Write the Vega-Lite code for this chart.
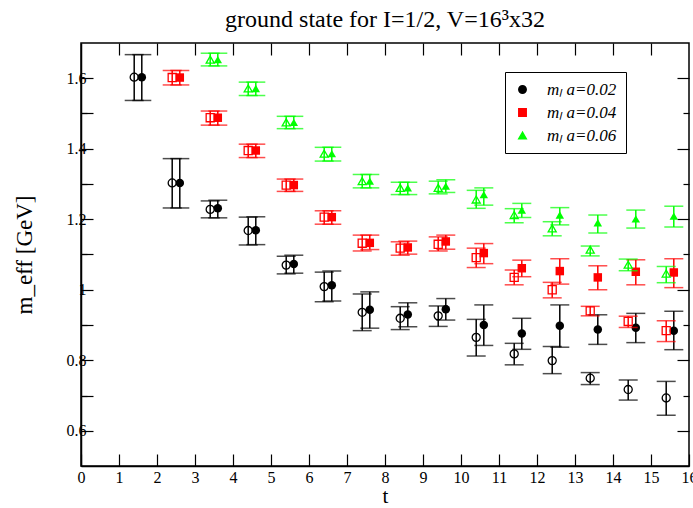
{
  "$schema": "https://vega.github.io/schema/vega-lite/v6.json",
  "width": 608,
  "height": 423,
  "autosize": "none",
  "padding": {"left": 81, "top": 43, "right": 4, "bottom": 42},
  "background": "white",
  "title": {"text": "ground state for  I=1/2, V=16³x32", "font": "Liberation Serif", "fontSize": 24, "fontWeight": "normal", "color": "black", "offset": 10},
  "config": {
    "view": {"stroke": "black", "strokeWidth": 1.5},
    "axis": {"domainColor": "black", "domainWidth": 1.5, "tickColor": "black", "tickWidth": 1.2, "labelFont": "Liberation Serif", "labelFontSize": 16, "labelColor": "black", "titleFont": "Liberation Serif", "titleColor": "black", "titleFontWeight": "normal", "grid": false, "labelOverlap": false}
  },
  "data": {"values": [
    {"series": "0.02", "kind": "open", "t": 1.4, "meff": 1.603, "lo": 1.537, "hi": 1.667},
    {"series": "0.02", "kind": "filled", "t": 1.6, "meff": 1.603, "lo": 1.537, "hi": 1.667},
    {"series": "0.02", "kind": "open", "t": 2.4, "meff": 1.303, "lo": 1.232, "hi": 1.372},
    {"series": "0.02", "kind": "filled", "t": 2.6, "meff": 1.303, "lo": 1.232, "hi": 1.372},
    {"series": "0.02", "kind": "open", "t": 3.4, "meff": 1.228, "lo": 1.204, "hi": 1.252},
    {"series": "0.02", "kind": "filled", "t": 3.6, "meff": 1.231, "lo": 1.204, "hi": 1.254},
    {"series": "0.02", "kind": "open", "t": 4.4, "meff": 1.168, "lo": 1.127, "hi": 1.206},
    {"series": "0.02", "kind": "filled", "t": 4.6, "meff": 1.169, "lo": 1.128, "hi": 1.207},
    {"series": "0.02", "kind": "open", "t": 5.4, "meff": 1.07, "lo": 1.045, "hi": 1.095},
    {"series": "0.02", "kind": "filled", "t": 5.6, "meff": 1.073, "lo": 1.047, "hi": 1.098},
    {"series": "0.02", "kind": "open", "t": 6.4, "meff": 1.009, "lo": 0.966, "hi": 1.05},
    {"series": "0.02", "kind": "filled", "t": 6.6, "meff": 1.013, "lo": 0.968, "hi": 1.053},
    {"series": "0.02", "kind": "open", "t": 7.4, "meff": 0.936, "lo": 0.884, "hi": 0.988},
    {"series": "0.02", "kind": "filled", "t": 7.6, "meff": 0.943, "lo": 0.891, "hi": 0.994},
    {"series": "0.02", "kind": "open", "t": 8.4, "meff": 0.919, "lo": 0.887, "hi": 0.952},
    {"series": "0.02", "kind": "filled", "t": 8.6, "meff": 0.93, "lo": 0.895, "hi": 0.963},
    {"series": "0.02", "kind": "open", "t": 9.4, "meff": 0.926, "lo": 0.896, "hi": 0.954},
    {"series": "0.02", "kind": "filled", "t": 9.6, "meff": 0.945, "lo": 0.914, "hi": 0.975},
    {"series": "0.02", "kind": "open", "t": 10.4, "meff": 0.865, "lo": 0.812, "hi": 0.916},
    {"series": "0.02", "kind": "filled", "t": 10.6, "meff": 0.9, "lo": 0.842, "hi": 0.957},
    {"series": "0.02", "kind": "open", "t": 11.4, "meff": 0.818, "lo": 0.787, "hi": 0.848},
    {"series": "0.02", "kind": "filled", "t": 11.6, "meff": 0.876, "lo": 0.831, "hi": 0.919},
    {"series": "0.02", "kind": "open", "t": 12.4, "meff": 0.799, "lo": 0.762, "hi": 0.839},
    {"series": "0.02", "kind": "filled", "t": 12.6, "meff": 0.898, "lo": 0.837, "hi": 0.957},
    {"series": "0.02", "kind": "open", "t": 13.4, "meff": 0.749, "lo": 0.731, "hi": 0.765},
    {"series": "0.02", "kind": "filled", "t": 13.6, "meff": 0.887, "lo": 0.845, "hi": 0.929},
    {"series": "0.02", "kind": "open", "t": 14.4, "meff": 0.717, "lo": 0.687, "hi": 0.744},
    {"series": "0.02", "kind": "filled", "t": 14.6, "meff": 0.892, "lo": 0.85, "hi": 0.933},
    {"series": "0.02", "kind": "open", "t": 15.4, "meff": 0.693, "lo": 0.644, "hi": 0.74},
    {"series": "0.02", "kind": "filled", "t": 15.6, "meff": 0.884, "lo": 0.83, "hi": 0.939},
    {"series": "0.04", "kind": "open", "t": 2.4, "meff": 1.602, "lo": 1.581, "hi": 1.622},
    {"series": "0.04", "kind": "filled", "t": 2.6, "meff": 1.602, "lo": 1.581, "hi": 1.622},
    {"series": "0.04", "kind": "open", "t": 3.4, "meff": 1.488, "lo": 1.467, "hi": 1.507},
    {"series": "0.04", "kind": "filled", "t": 3.6, "meff": 1.488, "lo": 1.467, "hi": 1.507},
    {"series": "0.04", "kind": "open", "t": 4.4, "meff": 1.395, "lo": 1.375, "hi": 1.413},
    {"series": "0.04", "kind": "filled", "t": 4.6, "meff": 1.395, "lo": 1.375, "hi": 1.413},
    {"series": "0.04", "kind": "open", "t": 5.4, "meff": 1.297, "lo": 1.279, "hi": 1.314},
    {"series": "0.04", "kind": "filled", "t": 5.6, "meff": 1.297, "lo": 1.279, "hi": 1.314},
    {"series": "0.04", "kind": "open", "t": 6.4, "meff": 1.206, "lo": 1.186, "hi": 1.224},
    {"series": "0.04", "kind": "filled", "t": 6.6, "meff": 1.206, "lo": 1.186, "hi": 1.224},
    {"series": "0.04", "kind": "open", "t": 7.4, "meff": 1.132, "lo": 1.11, "hi": 1.155},
    {"series": "0.04", "kind": "filled", "t": 7.6, "meff": 1.133, "lo": 1.114, "hi": 1.155},
    {"series": "0.04", "kind": "open", "t": 8.4, "meff": 1.118, "lo": 1.098, "hi": 1.136},
    {"series": "0.04", "kind": "filled", "t": 8.6, "meff": 1.12, "lo": 1.101, "hi": 1.138},
    {"series": "0.04", "kind": "open", "t": 9.4, "meff": 1.129, "lo": 1.11, "hi": 1.15},
    {"series": "0.04", "kind": "filled", "t": 9.6, "meff": 1.137, "lo": 1.115, "hi": 1.155},
    {"series": "0.04", "kind": "open", "t": 10.4, "meff": 1.091, "lo": 1.063, "hi": 1.118},
    {"series": "0.04", "kind": "filled", "t": 10.6, "meff": 1.104, "lo": 1.074, "hi": 1.131},
    {"series": "0.04", "kind": "open", "t": 11.4, "meff": 1.035, "lo": 1.014, "hi": 1.056},
    {"series": "0.04", "kind": "filled", "t": 11.6, "meff": 1.061, "lo": 1.037, "hi": 1.084},
    {"series": "0.04", "kind": "open", "t": 12.4, "meff": 1.0, "lo": 0.977, "hi": 1.021},
    {"series": "0.04", "kind": "filled", "t": 12.6, "meff": 1.053, "lo": 1.016, "hi": 1.088},
    {"series": "0.04", "kind": "open", "t": 13.4, "meff": 0.94, "lo": 0.926, "hi": 0.953},
    {"series": "0.04", "kind": "filled", "t": 13.6, "meff": 1.035, "lo": 1.0, "hi": 1.068},
    {"series": "0.04", "kind": "open", "t": 14.4, "meff": 0.91, "lo": 0.893, "hi": 0.925},
    {"series": "0.04", "kind": "filled", "t": 14.6, "meff": 1.051, "lo": 1.014, "hi": 1.085},
    {"series": "0.04", "kind": "open", "t": 15.4, "meff": 0.884, "lo": 0.853, "hi": 0.912},
    {"series": "0.04", "kind": "filled", "t": 15.6, "meff": 1.049, "lo": 1.006, "hi": 1.088},
    {"series": "0.06", "kind": "open", "t": 3.4, "meff": 1.653, "lo": 1.635, "hi": 1.671},
    {"series": "0.06", "kind": "filled", "t": 3.6, "meff": 1.653, "lo": 1.635, "hi": 1.671},
    {"series": "0.06", "kind": "open", "t": 4.4, "meff": 1.571, "lo": 1.551, "hi": 1.589},
    {"series": "0.06", "kind": "filled", "t": 4.6, "meff": 1.571, "lo": 1.551, "hi": 1.589},
    {"series": "0.06", "kind": "open", "t": 5.4, "meff": 1.475, "lo": 1.457, "hi": 1.492},
    {"series": "0.06", "kind": "filled", "t": 5.6, "meff": 1.475, "lo": 1.457, "hi": 1.492},
    {"series": "0.06", "kind": "open", "t": 6.4, "meff": 1.386, "lo": 1.365, "hi": 1.404},
    {"series": "0.06", "kind": "filled", "t": 6.6, "meff": 1.386, "lo": 1.365, "hi": 1.404},
    {"series": "0.06", "kind": "open", "t": 7.4, "meff": 1.308, "lo": 1.289, "hi": 1.327},
    {"series": "0.06", "kind": "filled", "t": 7.6, "meff": 1.308, "lo": 1.289, "hi": 1.327},
    {"series": "0.06", "kind": "open", "t": 8.4, "meff": 1.289, "lo": 1.27, "hi": 1.305},
    {"series": "0.06", "kind": "filled", "t": 8.6, "meff": 1.289, "lo": 1.27, "hi": 1.305},
    {"series": "0.06", "kind": "open", "t": 9.4, "meff": 1.289, "lo": 1.272, "hi": 1.308},
    {"series": "0.06", "kind": "filled", "t": 9.6, "meff": 1.294, "lo": 1.276, "hi": 1.312},
    {"series": "0.06", "kind": "open", "t": 10.4, "meff": 1.256, "lo": 1.231, "hi": 1.282},
    {"series": "0.06", "kind": "filled", "t": 10.6, "meff": 1.27, "lo": 1.24, "hi": 1.289},
    {"series": "0.06", "kind": "open", "t": 11.4, "meff": 1.212, "lo": 1.19, "hi": 1.23},
    {"series": "0.06", "kind": "filled", "t": 11.6, "meff": 1.226, "lo": 1.205, "hi": 1.245},
    {"series": "0.06", "kind": "open", "t": 12.4, "meff": 1.174, "lo": 1.153, "hi": 1.193},
    {"series": "0.06", "kind": "filled", "t": 12.6, "meff": 1.212, "lo": 1.184, "hi": 1.233},
    {"series": "0.06", "kind": "open", "t": 13.4, "meff": 1.114, "lo": 1.096, "hi": 1.124},
    {"series": "0.06", "kind": "filled", "t": 13.6, "meff": 1.19, "lo": 1.161, "hi": 1.212},
    {"series": "0.06", "kind": "open", "t": 14.4, "meff": 1.071, "lo": 1.054, "hi": 1.087},
    {"series": "0.06", "kind": "filled", "t": 14.6, "meff": 1.201, "lo": 1.175, "hi": 1.226},
    {"series": "0.06", "kind": "open", "t": 15.4, "meff": 1.046, "lo": 1.02, "hi": 1.066},
    {"series": "0.06", "kind": "filled", "t": 15.6, "meff": 1.209, "lo": 1.178, "hi": 1.237}
  ]},
  "layer": [
    {
      "transform": [{"filter": "datum.kind == 'filled'"}],
      "mark": {"type": "point", "filled": true, "opacity": 1, "size": 72},
      "encoding": {
        "x": {"field": "t", "type": "quantitative", "scale": {"domain": [0, 16], "nice": false, "zero": false},
              "axis": {"orient": "bottom", "values": [0,1,2,3,4,5,6,7,8,9,10,11,12,13,14,15,16], "tickSize": -12, "labelPadding": 15, "labelFlush": false, "title": "t", "titleFontSize": 21, "titlePadding": 0}},
        "y": {"field": "meff", "type": "quantitative", "scale": {"domain": [0.5, 1.7], "nice": false, "zero": false},
              "axis": {"orient": "left", "values": [0.6,0.7,0.8,0.9,1.0,1.1,1.2,1.3,1.4,1.5,1.6],
                       "labelExpr": "abs(round(datum.value*10)%2)==0 ? format(datum.value,'~g') : ''",
                       "tickSize": -12,
                       "labelPadding": 7, "title": "m_eff [GeV]", "titleFontSize": 23, "titlePadding": 30}},
        "color": {"field": "series", "type": "nominal", "scale": {"domain": ["0.02", "0.04", "0.06"], "range": ["black", "#ff0000", "#00ff00"]},
                  "legend": {"title": null, "orient": "none", "legendX": 424, "legendY": 29, "strokeColor": "black", "fillColor": "white", "padding": 9, "labelFont": "Liberation Serif", "labelFontStyle": "italic", "labelFontSize": 17, "labelColor": "black", "symbolSize": 55, "rowPadding": 5, "labelOffset": 16, "labelExpr": "'mₗ a=' + datum.label"}},
        "shape": {"field": "series", "type": "nominal", "scale": {"domain": ["0.02", "0.04", "0.06"], "range": ["circle", "square", "triangle-up"]},
                  "legend": {"title": null, "orient": "none", "legendX": 424, "legendY": 29, "strokeColor": "black", "fillColor": "white", "padding": 9, "labelFont": "Liberation Serif", "labelFontStyle": "italic", "labelFontSize": 17, "labelColor": "black", "symbolSize": 55, "rowPadding": 5, "labelOffset": 16, "labelExpr": "'mₗ a=' + datum.label"}}
      }
    },
    {
      "mark": {"type": "rule", "strokeWidth": 1.5},
      "encoding": {
        "x": {"field": "t", "type": "quantitative",
              "axis": {"orient": "top", "values": [1,2,3,4,5,6,7,8,9,10,11,12,13,14,15], "tickSize": -12, "labels": false, "title": null, "domain": false}},
        "y": {"field": "lo", "type": "quantitative",
              "axis": {"orient": "right", "values": [0.6,0.8,1.0,1.2,1.4,1.6], "tickSize": -12, "labels": false, "title": null, "domain": false}},
        "y2": {"field": "hi"},
        "color": {"field": "series", "type": "nominal"}
      }
    },
    {
      "mark": {"type": "tick", "orient": "horizontal", "size": 19, "thickness": 1.5},
      "encoding": {
        "x": {"field": "t", "type": "quantitative", "axis": null},
        "y": {"field": "lo", "type": "quantitative",
              "axis": {"orient": "left", "values": [0.7,0.9,1.1,1.3,1.5], "tickSize": -6, "labels": false, "title": null, "domain": false}},
        "color": {"field": "series", "type": "nominal"}
      }
    },
    {
      "mark": {"type": "tick", "orient": "horizontal", "size": 19, "thickness": 1.5},
      "encoding": {
        "x": {"field": "t", "type": "quantitative", "axis": null},
        "y": {"field": "hi", "type": "quantitative",
              "axis": {"orient": "right", "values": [0.7,0.9,1.1,1.3,1.5], "tickSize": -6, "labels": false, "title": null, "domain": false}},
        "color": {"field": "series", "type": "nominal"}
      }
    },
    {
      "transform": [{"filter": "datum.kind == 'open'"}],
      "mark": {"type": "point", "filled": false, "strokeWidth": 1.3, "opacity": 1, "size": 65},
      "encoding": {
        "x": {"field": "t", "type": "quantitative", "axis": null},
        "y": {"field": "meff", "type": "quantitative", "axis": null},
        "color": {"field": "series", "type": "nominal"},
        "shape": {"field": "series", "type": "nominal"}
      }
    }
  ]
}
